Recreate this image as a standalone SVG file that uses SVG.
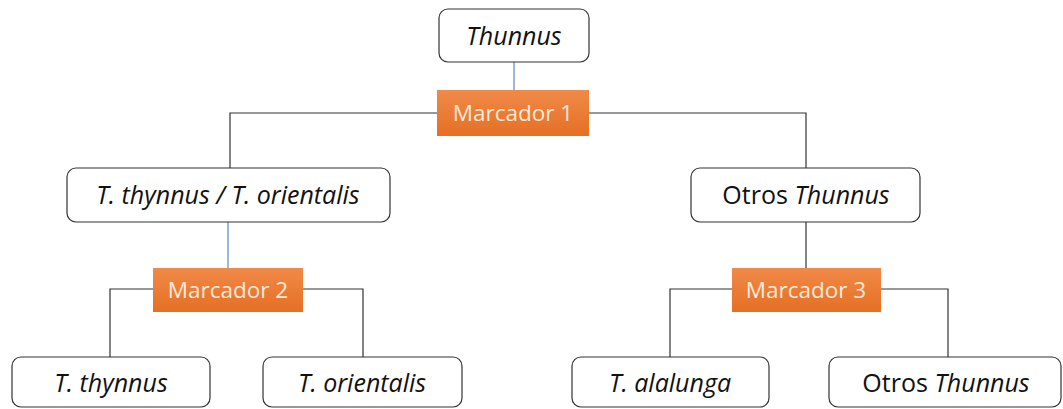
<svg xmlns="http://www.w3.org/2000/svg" width="1063" height="409" viewBox="0 0 1063 409">
<defs>
<linearGradient id="og" x1="0" y1="0" x2="0" y2="1">
<stop offset="0" stop-color="#f08a48"/>
<stop offset="1" stop-color="#e56f24"/>
</linearGradient>
<style>
.box{fill:#fff;stroke:#333;stroke-width:1.2}
.mk{fill:url(#og)}
.t{font-family:"Open Sans","Liberation Sans",sans-serif;font-size:25px;fill:#111;text-anchor:middle;dominant-baseline:central}
.i{font-style:italic}
.mt{font-family:"Open Sans","Liberation Sans",sans-serif;font-size:22.5px;fill:#fde9d9;text-anchor:middle;dominant-baseline:central}
.c{fill:none;stroke:#333;stroke-width:1.2}
.cb{fill:none;stroke:#5b88c0;stroke-width:1.2}
</style>
</defs>
<rect width="1063" height="409" fill="#fff"/>
<g id="connectors">
<line class="cb" x1="514" y1="62" x2="514" y2="90"/>
<polyline class="c" points="437,113 230,113 230,168"/>
<polyline class="c" points="589,113 806,113 806,168"/>
<line class="cb" x1="228" y1="222" x2="228" y2="268"/>
<polyline class="c" points="153,289 110,289 110,357"/>
<polyline class="c" points="303,289 363,289 363,357"/>
<line class="c" x1="806" y1="222" x2="806" y2="268"/>
<polyline class="c" points="732,289 670,289 670,357"/>
<polyline class="c" points="881,289 948,289 948,357"/>
</g>
<g id="thunnus">
<rect class="box" x="439" y="9" width="150" height="53" rx="9"/>
<text class="t i" x="514" y="35">Thunnus</text>
</g>
<g id="marcador1">
<rect class="mk" x="437" y="90" width="152" height="46"/>
<text class="mt" x="513" y="112">Marcador 1</text>
</g>
<g id="thynnus-orientalis">
<rect class="box" x="67" y="168" width="323" height="54" rx="9"/>
<text class="t i" x="228" y="194">T. thynnus / T. orientalis</text>
</g>
<g id="otros1">
<rect class="box" x="691" y="168" width="229" height="54" rx="9"/>
<text class="t" x="806" y="194">Otros <tspan class="i">Thunnus</tspan></text>
</g>
<g id="marcador2">
<rect class="mk" x="153" y="268" width="150" height="44"/>
<text class="mt" x="228" y="289">Marcador 2</text>
</g>
<g id="marcador3">
<rect class="mk" x="732" y="268" width="149" height="44"/>
<text class="mt" x="806" y="289">Marcador 3</text>
</g>
<g id="thynnus">
<rect class="box" x="12" y="357" width="198" height="50" rx="9"/>
<text class="t i" x="111" y="382">T. thynnus</text>
</g>
<g id="orientalis">
<rect class="box" x="263" y="357" width="199" height="50" rx="9"/>
<text class="t i" x="362" y="382">T. orientalis</text>
</g>
<g id="alalunga">
<rect class="box" x="572" y="357" width="197" height="50" rx="9"/>
<text class="t i" x="670" y="382">T. alalunga</text>
</g>
<g id="otros2">
<rect class="box" x="829" y="357" width="232" height="50" rx="9"/>
<text class="t" x="946" y="382">Otros <tspan class="i">Thunnus</tspan></text>
</g>
</svg>
